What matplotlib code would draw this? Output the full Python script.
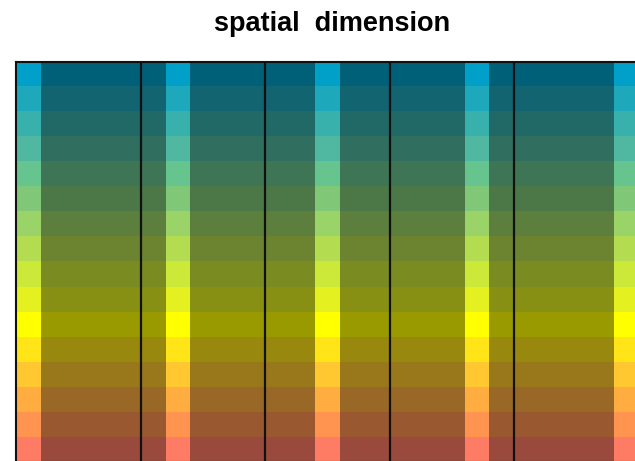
import numpy as np
import matplotlib
matplotlib.use("Agg")
import matplotlib.pyplot as plt
from matplotlib.colors import to_rgb

# bright colour of each row (top to bottom)
row_colors = [
    "#00A0C8", "#1EA8BC", "#38B0AC", "#50B8A0", "#66C48E", "#80C878",
    "#9AD468", "#B4DC50", "#CCE838", "#E4F020", "#FFFF00", "#FFE418",
    "#FFC830", "#FFAC40", "#FF9450", "#FF7C64",
]
n_blocks = 5
cells_per_block = 5
# highlighted cell inside each block
highlight = [0, 1, 2, 3, 4]
dim = 0.6
title = "spatial  dimension"

W, H = 635, 461
fig = plt.figure(figsize=(W / 100, H / 100), dpi=100)

# axes runs past the right and bottom edge of the picture
left, top = 16, 62
ax_w = n_blocks * cells_per_block * 24.9
ax_h = len(row_colors) * 25
ax = fig.add_axes([left / W, (H - top - ax_h) / H, ax_w / W, ax_h / H])

n_cols = n_blocks * cells_per_block
img = np.zeros((len(row_colors), n_cols, 3))
for r, c in enumerate(row_colors):
    rgb = np.array(to_rgb(c))
    img[r, :, :] = rgb * dim
    for b, h in enumerate(highlight):
        img[r, b * cells_per_block + h, :] = rgb

ax.imshow(img, aspect="auto", interpolation="nearest",
          extent=(0, n_cols, len(row_colors), 0))
for b in range(1, n_blocks):
    ax.axvline(b * cells_per_block, color="#111111", lw=1.6)

ax.set_xticks([])
ax.set_yticks([])
for s in ax.spines.values():
    s.set_color("#111111")
    s.set_linewidth(1.5)

fig.text(332 / W, 1 - 31 / H, title, ha="center", va="baseline",
         fontsize=19.5, fontweight="bold", family="Liberation Sans")

fig.savefig("out.png", dpi=100)
